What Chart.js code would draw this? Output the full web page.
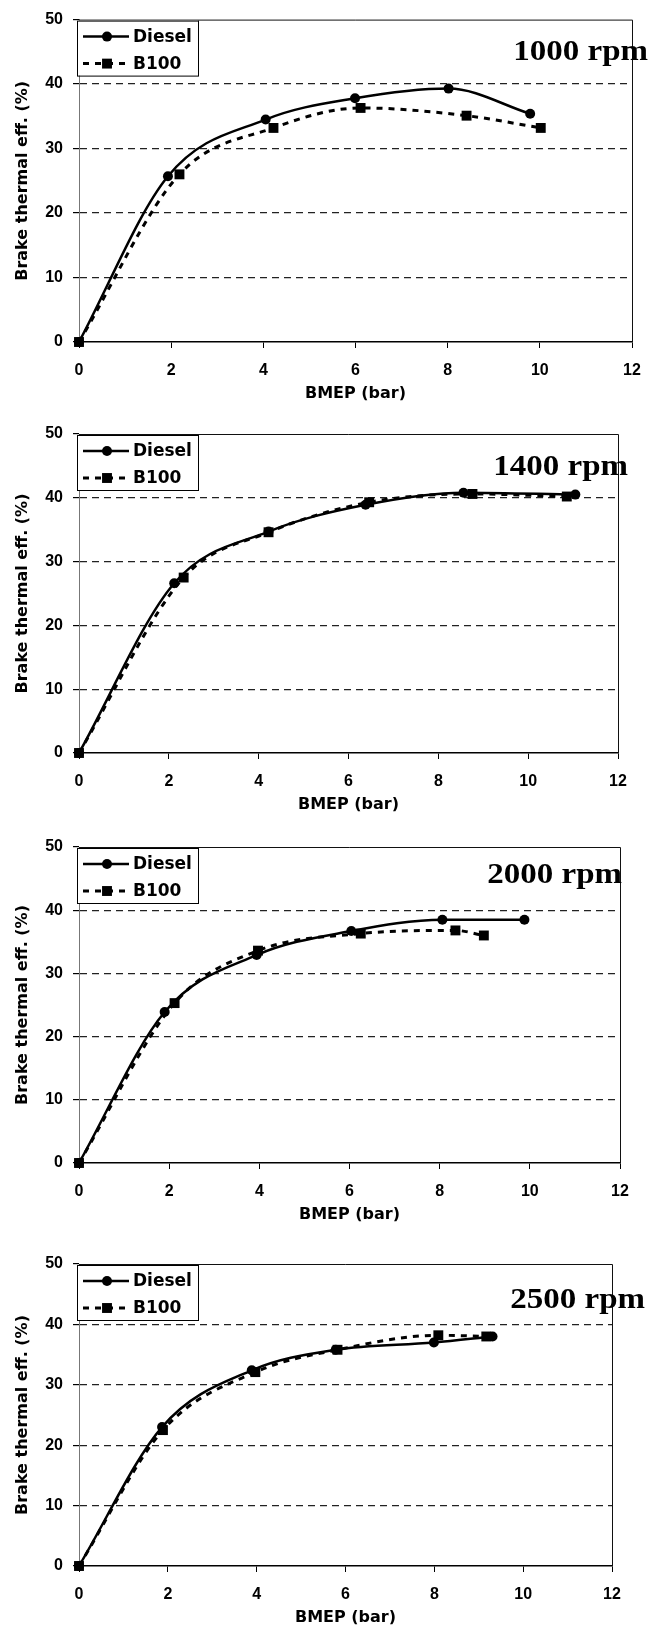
<!DOCTYPE html>
<html>
<head>
<meta charset="utf-8">
<title>Brake thermal efficiency vs BMEP</title>
<script src="https://cdn.jsdelivr.net/npm/chart.js@4.4.1/dist/chart.umd.min.js"></script>
<style>
  html, body { margin: 0; padding: 0; background: #fff; }
  #wrap { position: relative; width: 657px; height: 1629px; }
  #wrap canvas { position: absolute; left: 0; }
</style>
</head>
<body>
<div id="wrap"></div>
<script>
// engine speeds, one panel each
var speeds = ['1000 rpm', '1400 rpm', '2000 rpm', '2500 rpm'];
var seriesNames = ['Diesel', 'B100'];

// BMEP (bar) / brake thermal efficiency (%)
var dieselBmep = [
    [0, 1.93, 4.05, 5.99, 8.02, 9.79],
    [0, 2.12, 4.22, 6.38, 8.56, 11.05],
    [0, 1.90, 3.94, 6.04, 8.06, 9.88],
    [0, 1.87, 3.89, 5.78, 7.99, 9.31]
];
var dieselEff = [
    [0, 25.7, 34.5, 37.8, 39.3, 35.4],
    [0, 26.6, 34.7, 38.9, 40.8, 40.5],
    [0, 23.9, 32.9, 36.7, 38.5, 38.5],
    [0, 23.0, 32.4, 35.8, 37.0, 38.0]
];
var b100Bmep = [
    [0, 2.18, 4.22, 6.11, 8.41, 10.02],
    [0, 2.33, 4.22, 6.46, 8.76, 10.86],
    [0, 2.12, 3.97, 6.25, 8.35, 8.98],
    [0, 1.89, 3.97, 5.82, 8.09, 9.17]
];
var b100Eff = [
    [0, 26.0, 33.2, 36.3, 35.1, 33.2],
    [0, 27.5, 34.6, 39.3, 40.6, 40.2],
    [0, 25.3, 33.6, 36.3, 36.8, 36.0],
    [0, 22.5, 32.1, 35.8, 38.2, 38.0]
];

// where each panel sits on the page
var panelBoxes = [
    { top: 0,    height: 405, padTop: 16, padRight: 25, rpmRight: 648, rpmY: 52 },
    { top: 405,  height: 411, padTop: 29, padRight: 39, rpmRight: 628, rpmY: 62 },
    { top: 816,  height: 410, padTop: 31, padRight: 37, rpmRight: 622, rpmY: 59 },
    { top: 1226, height: 403, padTop: 38, padRight: 45, rpmRight: 645, rpmY: 74 }
];

Chart.defaults.font.family = '"Liberation Sans", Arial, sans-serif';
Chart.defaults.color = '#000';

function toPoints(xs, ys) {
    return xs.map(function(x, i) { return { x: x, y: ys[i] }; });
}

// top and right edge of the plot area
var framePlugin = {
    id: 'frame',
    beforeDatasetsDraw: function(chart) {
        var a = chart.chartArea, ctx = chart.ctx;
        ctx.save();
        ctx.strokeStyle = '#111';
        ctx.lineWidth = 1;
        ctx.beginPath();
        ctx.moveTo(a.left, a.top + 0.5);
        ctx.lineTo(a.right + 0.5, a.top + 0.5);
        ctx.lineTo(a.right + 0.5, a.bottom);
        ctx.stroke();
        ctx.restore();
    }
};

// boxed legend in the top left corner, Excel style
var legendBoxPlugin = {
    id: 'legendBox',
    afterDatasetsDraw: function(chart) {
        var a = chart.chartArea, ctx = chart.ctx;
        var x0 = a.left - 2, y0 = a.top + 1;
        ctx.save();
        ctx.fillStyle = '#fff';
        ctx.fillRect(x0, y0, 121, 55);
        ctx.strokeStyle = '#000';
        ctx.lineWidth = 1;
        ctx.strokeRect(x0 + 0.5, y0 + 0.5, 121, 55);
        chart.data.datasets.forEach(function(ds, i) {
            var cy = a.top + 17 + i * 27;
            ctx.strokeStyle = ds.borderColor;
            ctx.lineWidth = ds.borderWidth;
            ctx.setLineDash(ds.borderDash || []);
            ctx.beginPath();
            ctx.moveTo(a.left + 4, cy);
            ctx.lineTo(a.left + 50, cy);
            ctx.stroke();
            ctx.setLineDash([]);
            ctx.fillStyle = ds.pointBackgroundColor;
            Chart.helpers.drawPoint(ctx, {
                pointStyle: ds.pointStyle, radius: ds.pointRadius, rotation: 0, borderWidth: 0
            }, a.left + 28, cy);
            ctx.fillStyle = '#000';
            ctx.font = 'bold 17px "DejaVu Sans", sans-serif';
            ctx.textAlign = 'left';
            ctx.textBaseline = 'middle';
            ctx.fillText(ds.label, a.left + 54, cy + 1);
        });
        ctx.restore();
    }
};

// speed label, Times bold, a little wide
var rpmPlugin = {
    id: 'rpmLabel',
    afterDraw: function(chart, args, opts) {
        var ctx = chart.ctx;
        ctx.save();
        ctx.translate(opts.right, opts.y);
        ctx.scale(1.1, 1);
        ctx.font = 'bold 30px "Liberation Serif", "Times New Roman", serif';
        ctx.fillStyle = '#000';
        ctx.textAlign = 'right';
        ctx.textBaseline = 'middle';
        ctx.fillText(opts.text, 0, 0);
        ctx.restore();
    }
};

var wrap = document.getElementById('wrap');

speeds.forEach(function(speed, p) {
    var box = panelBoxes[p];
    var canvas = document.createElement('canvas');
    canvas.width = 657;
    canvas.height = box.height;
    canvas.style.top = box.top + 'px';
    wrap.appendChild(canvas);

    new Chart(canvas.getContext('2d'), {
        type: 'line',
        data: {
            datasets: [
                {
                    label: seriesNames[0],
                    data: toPoints(dieselBmep[p], dieselEff[p]),
                    borderColor: '#000',
                    borderWidth: 2.5,
                    pointStyle: 'circle',
                    pointRadius: 5,
                    pointBackgroundColor: '#000',
                    pointBorderWidth: 0,
                    cubicInterpolationMode: 'monotone',
                    fill: false,
                    clip: false
                },
                {
                    label: seriesNames[1],
                    data: toPoints(b100Bmep[p], b100Eff[p]),
                    borderColor: '#000',
                    borderWidth: 3,
                    borderDash: [6, 6],
                    pointStyle: 'rect',
                    pointRadius: 7,
                    pointBackgroundColor: '#000',
                    pointBorderWidth: 0,
                    cubicInterpolationMode: 'monotone',
                    fill: false,
                    clip: false
                }
            ]
        },
        options: {
            responsive: false,
            animation: false,
            events: [],
            layout: { padding: { top: box.padTop, right: box.padRight, left: 0, bottom: 0 } },
            plugins: {
                legend: { display: false },
                tooltip: { enabled: false },
                rpmLabel: { text: speed, right: box.rpmRight, y: box.rpmY }
            },
            scales: {
                x: {
                    type: 'linear',
                    min: 0,
                    max: 12,
                    ticks: { stepSize: 2, maxRotation: 0, padding: 13, color: '#000',
                             font: { size: 16, weight: 'bold' } },
                    grid: { drawOnChartArea: false, drawTicks: true, tickLength: 6, tickColor: '#000' },
                    border: { color: '#000', width: 1.5 },
                    title: {
                        display: true,
                        text: 'BMEP (bar)',
                        color: '#000',
                        font: { family: '"DejaVu Sans", sans-serif', size: 16, weight: 'bold' },
                        padding: { top: 0, bottom: 2 }
                    },
                    afterFit: function(scale) { scale.height = 63; }
                },
                y: {
                    min: 0,
                    max: 50,
                    ticks: { stepSize: 10, padding: 10, color: '#000',
                             font: { size: 16, weight: 'bold' } },
                    grid: {
                        color: function(c) {
                            var v = c.tick ? c.tick.value : null;
                            return (v === 0 || v === 50) ? 'rgba(0,0,0,0)' : '#222';
                        },
                        lineWidth: 1.2,
                        tickLength: 6,
                        tickColor: '#000'
                    },
                    border: { color: '#777', width: 1, dash: [7, 5] },
                    title: {
                        display: true,
                        text: 'Brake thermal eff. (%)',
                        color: '#000',
                        font: { family: '"DejaVu Sans", sans-serif', size: 16, weight: 'bold' },
                        padding: { top: 13, bottom: 0 }
                    },
                    afterFit: function(scale) { scale.width = 79; }
                }
            }
        },
        plugins: [framePlugin, legendBoxPlugin, rpmPlugin]
    });
});
</script>
</body>
</html>
